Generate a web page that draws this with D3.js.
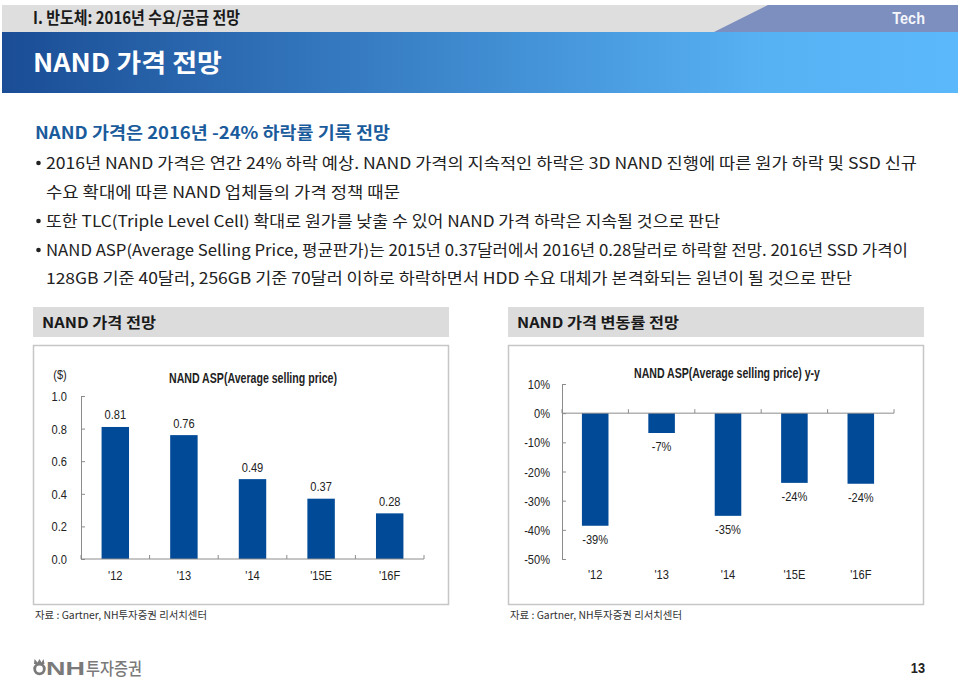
<!DOCTYPE html>
<html><head><meta charset="utf-8">
<script src="https://cdn.jsdelivr.net/npm/d3@7/dist/d3.min.js"></script>
<style>
body{margin:0;background:#fff;}
svg{display:block;}
</style></head>
<body>
<svg id="page" width="960" height="678"></svg>
<script>
// ---- data ----
const categories = ["'12", "'13", "'14", "'15E", "'16F"];
const aspValues = [0.81, 0.76, 0.49, 0.37, 0.28];
const aspLabels = ["0.81", "0.76", "0.49", "0.37", "0.28"];
const aspTicks = [0, 0.2, 0.4, 0.6, 0.8, 1.0];
const yoyValues = [-38.6, -6.8, -35.2, -23.9, -24.2];
const yoyLabels = ["-39%", "-7%", "-35%", "-24%", "-24%"];
const yoyTicks = [10, 0, -10, -20, -30, -40, -50];

const bodyLines = [
  {b: true, t: "2016년 NAND 가격은 연간 24% 하락 예상. NAND 가격의 지속적인 하락은 3D NAND 진행에 따른 원가 하락 및 SSD 신규", w: 871, y: 163},
  {b: false, t: "수요 확대에 따른 NAND 업체들의 가격 정책 때문", w: 354, y: 192},
  {b: true, t: "또한 TLC(Triple Level Cell) 확대로 원가를 낮출 수 있어 NAND 가격 하락은 지속될 것으로 판단", w: 674, y: 221},
  {b: true, t: "NAND ASP(Average Selling Price, 평균판가)는 2015년 0.37달러에서 2016년 0.28달러로 하락할 전망. 2016년 SSD 가격이", w: 862, y: 250},
  {b: false, t: "128GB 기준 40달러, 256GB 기준 70달러 이하로 하락하면서 HDD 수요 대체가 본격화되는 원년이 될 것으로 판단", w: 806, y: 278}
];

const svg = d3.select("#page");
const KR = "'Noto Sans CJK KR', 'Noto Sans', sans-serif";
const NARROW = "'Liberation Sans', Arial, sans-serif";
const BAR = "#004a97";
const AXIS = "#8c8c8c";

// condense text like Arial Narrow
function narrow(sel, f = 0.82) {
  sel.each(function () {
    const l = this.getComputedTextLength();
    this.setAttribute("textLength", (l * f).toFixed(2));
    this.setAttribute("lengthAdjust", "spacingAndGlyphs");
  });
}

// ---- header ----
const defs = svg.append("defs");
const grad = defs.append("linearGradient").attr("id", "hdr").attr("x1", "0").attr("x2", "1").attr("y1", "0").attr("y2", "0");
grad.append("stop").attr("offset", "0").attr("stop-color", "#1a4d95");
grad.append("stop").attr("offset", "0.45").attr("stop-color", "#3c85cb");
grad.append("stop").attr("offset", "0.8").attr("stop-color", "#57b2f4");
grad.append("stop").attr("offset", "1").attr("stop-color", "#5bb8fa");

svg.append("rect").attr("x", 2).attr("y", 5).attr("width", 956).attr("height", 28).attr("fill", "#dedede");
svg.append("path").attr("d", "M712,33 L768,5 L958,5 L958,33 Z").attr("fill", "#7d8fbf");
svg.append("rect").attr("x", 2).attr("y", 32).attr("width", 956).attr("height", 61).attr("fill", "url(#hdr)");

svg.append("text").attr("x", 33).attr("y", 24).attr("font-family", KR).attr("font-weight", 700)
  .attr("font-size", 17).attr("fill", "#1a1a1a").attr("textLength", 207).attr("lengthAdjust", "spacingAndGlyphs")
  .text("I. 반도체: 2016년 수요/공급 전망");
svg.append("text").attr("x", 925).attr("y", 24).attr("text-anchor", "end").attr("font-family", NARROW).attr("font-weight", 700)
  .attr("font-size", 17).attr("fill", "#f4f6fb").text("Tech").call(narrow, 0.85);
svg.append("text").attr("x", 33).attr("y", 72).attr("font-family", KR).attr("font-weight", 700)
  .attr("font-size", 25).attr("fill", "#ffffff").attr("textLength", 189).attr("lengthAdjust", "spacingAndGlyphs")
  .text("NAND 가격 전망");

// ---- body text ----
svg.append("text").attr("x", 35).attr("y", 139).attr("font-family", KR).attr("font-weight", 600)
  .attr("font-size", 16.5).attr("fill", "#1a5b9c").attr("textLength", 355).attr("lengthAdjust", "spacingAndGlyphs")
  .text("NAND 가격은 2016년 -24% 하락률 기록 전망");

bodyLines.forEach(l => {
  if (l.b) svg.append("circle").attr("cx", 38.5).attr("cy", l.y).attr("r", 2.3).attr("fill", "#222");
  svg.append("text").attr("x", 46).attr("y", l.y + 5.5).attr("font-family", KR).attr("font-weight", 400)
    .attr("font-size", 15.5).attr("fill", "#222").attr("textLength", l.w).attr("lengthAdjust", "spacingAndGlyphs")
    .text(l.t);
});

// ---- panels ----
function panel(x0, title, titleW) {
  svg.append("rect").attr("x", x0).attr("y", 307).attr("width", 416).attr("height", 30).attr("fill", "#dcdcdc");
  svg.append("text").attr("x", x0 + 9).attr("y", 327.5).attr("font-family", KR).attr("font-weight", 700)
    .attr("font-size", 15).attr("fill", "#1a1a1a").attr("textLength", titleW).attr("lengthAdjust", "spacingAndGlyphs")
    .text(title);
  svg.append("rect").attr("x", x0 + 0.5).attr("y", 345.5).attr("width", 415).attr("height", 259)
    .attr("fill", "#fff").attr("stroke", "#c6c6c6").attr("stroke-width", 1.5);
  svg.append("text").attr("x", x0 + 2).attr("y", 619).attr("font-family", KR).attr("font-size", 10.5)
    .attr("fill", "#333").attr("textLength", 172).attr("lengthAdjust", "spacingAndGlyphs")
    .text("자료 : Gartner, NH투자증권 리서치센터");
}
panel(33, "NAND 가격 전망", 114);
panel(508, "NAND 가격 변동률 전망", 162);

// ---- left chart ----
{
  const x = d3.scaleBand().domain(categories).range([81, 424]).paddingInner(0.6).paddingOuter(0.3);
  const y = d3.scaleLinear().domain([0, 1]).range([559, 396]);
  const g = svg.append("g");
  g.selectAll("rect.bar").data(aspValues).join("rect").attr("class", "bar")
    .attr("x", (d, i) => x(categories[i])).attr("width", x.bandwidth())
    .attr("y", d => y(d)).attr("height", d => y(0) - y(d)).attr("fill", BAR);
  const ya = d3.axisRight(y).tickValues(aspTicks).tickSize(4).tickFormat("");
  g.append("g").attr("transform", "translate(81,0)").call(ya)
    .call(s => s.selectAll("path,line").attr("stroke", AXIS));
  g.selectAll("text.yt").data(aspTicks).join("text").attr("class", "yt")
    .attr("x", 67).attr("y", d => y(d) + 5).attr("text-anchor", "end")
    .attr("font-family", NARROW).attr("font-size", 13.5).attr("fill", "#222").text(d => d3.format(".1f")(d)).call(narrow);
  g.append("line").attr("x1", 81).attr("x2", 424).attr("y1", y(0)).attr("y2", y(0)).attr("stroke", AXIS);
  const bounds = d3.range(categories.length + 1).map(i => 81 + i * x.step());
  g.selectAll("line.xt").data(bounds).join("line").attr("class", "xt")
    .attr("x1", d => d).attr("x2", d => d).attr("y1", y(0)).attr("y2", y(0) - 4).attr("stroke", AXIS);
  g.selectAll("text.xl").data(categories).join("text").attr("class", "xl")
    .attr("x", d => x(d) + x.bandwidth() / 2).attr("y", 580).attr("text-anchor", "middle")
    .attr("font-family", NARROW).attr("font-size", 13.5).attr("fill", "#222").text(d => d).call(narrow);
  g.selectAll("text.vl").data(aspValues).join("text").attr("class", "vl")
    .attr("x", (d, i) => x(categories[i]) + x.bandwidth() / 2).attr("y", d => y(d) - 7.5).attr("text-anchor", "middle")
    .attr("font-family", NARROW).attr("font-size", 13.5).attr("fill", "#222").text((d, i) => aspLabels[i]).call(narrow);
  g.append("text").attr("x", 60).attr("y", 379).attr("text-anchor", "middle")
    .attr("font-family", NARROW).attr("font-size", 13.5).attr("fill", "#222").text("($)").call(narrow);
  g.append("text").attr("x", 253).attr("y", 383).attr("text-anchor", "middle")
    .attr("font-family", NARROW).attr("font-weight", 700).attr("font-size", 14).attr("fill", "#222")
    .attr("textLength", 168).attr("lengthAdjust", "spacingAndGlyphs")
    .text("NAND ASP(Average selling price)");
}

// ---- right chart ----
{
  const x = d3.scaleBand().domain(categories).range([562, 894]).paddingInner(0.6).paddingOuter(0.3);
  const y = d3.scaleLinear().domain([-50, 10]).range([559, 384]);
  const g = svg.append("g");
  g.selectAll("rect.bar").data(yoyValues).join("rect").attr("class", "bar")
    .attr("x", (d, i) => x(categories[i])).attr("width", x.bandwidth())
    .attr("y", y(0)).attr("height", d => y(d) - y(0)).attr("fill", BAR);
  const ya = d3.axisRight(y).tickValues(yoyTicks).tickSize(4).tickFormat("");
  g.append("g").attr("transform", "translate(562,0)").call(ya)
    .call(s => s.selectAll("path,line").attr("stroke", AXIS));
  g.selectAll("text.yt").data(yoyTicks).join("text").attr("class", "yt")
    .attr("x", 550).attr("y", d => y(d) + 5).attr("text-anchor", "end")
    .attr("font-family", NARROW).attr("font-size", 13.5).attr("fill", "#222").text(d => d + "%").call(narrow);
  g.append("line").attr("x1", 562).attr("x2", 894).attr("y1", y(0)).attr("y2", y(0)).attr("stroke", AXIS);
  const bounds = d3.range(categories.length + 1).map(i => 562 + i * x.step());
  g.selectAll("line.xt").data(bounds).join("line").attr("class", "xt")
    .attr("x1", d => d).attr("x2", d => d).attr("y1", y(0)).attr("y2", y(0) - 4).attr("stroke", AXIS);
  g.selectAll("text.xl").data(categories).join("text").attr("class", "xl")
    .attr("x", d => x(d) + x.bandwidth() / 2).attr("y", 579).attr("text-anchor", "middle")
    .attr("font-family", NARROW).attr("font-size", 13.5).attr("fill", "#222").text(d => d).call(narrow);
  g.selectAll("text.vl").data(yoyValues).join("text").attr("class", "vl")
    .attr("x", (d, i) => x(categories[i]) + x.bandwidth() / 2).attr("y", d => y(d) + 18).attr("text-anchor", "middle")
    .attr("font-family", NARROW).attr("font-size", 13.5).attr("fill", "#222").text((d, i) => yoyLabels[i]).call(narrow);
  g.append("text").attr("x", 727).attr("y", 378).attr("text-anchor", "middle")
    .attr("font-family", NARROW).attr("font-weight", 700).attr("font-size", 14).attr("fill", "#222")
    .attr("textLength", 186).attr("lengthAdjust", "spacingAndGlyphs")
    .text("NAND ASP(Average selling price) y-y");
}

// ---- footer ----
{
  const lg = svg.append("g").attr("fill", "#7a7a7a");
  lg.append("path").attr("d", "M34.5,659 L37.5,662.5 L39.5,659 L41.5,662.5 L43.5,659 L44.5,664 L34,664 Z");
  lg.append("circle").attr("cx", 39.5).attr("cy", 669).attr("r", 4.8).attr("fill", "none").attr("stroke", "#7a7a7a").attr("stroke-width", 2.8);
  lg.append("text").attr("x", 46).attr("y", 675).attr("font-family", "'Liberation Sans', Arial, sans-serif").attr("font-weight", 700)
    .attr("font-size", 19).attr("textLength", 39).attr("lengthAdjust", "spacingAndGlyphs").text("NH");
  lg.append("text").attr("x", 86).attr("y", 674.5).attr("font-family", KR).attr("font-weight", 500)
    .attr("font-size", 17).attr("textLength", 56).attr("lengthAdjust", "spacingAndGlyphs").text("투자증권");
  svg.append("text").attr("x", 925).attr("y", 673).attr("text-anchor", "end").attr("font-family", NARROW).attr("font-weight", 700)
    .attr("font-size", 15).attr("fill", "#222").text("13").call(narrow, 0.85);
}
</script>
</body></html>
